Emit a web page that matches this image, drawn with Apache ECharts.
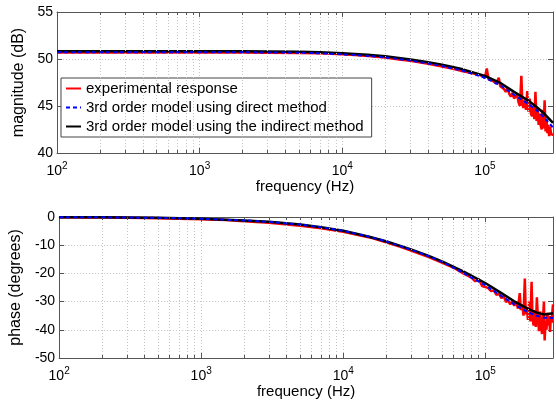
<!DOCTYPE html>
<html>
<head>
<meta charset="utf-8">
<script src="https://cdn.jsdelivr.net/npm/echarts@6/dist/echarts.min.js"></script>
<style>
html,body{margin:0;padding:0;background:#fff;}
#chart{width:556px;height:404px;}
</style>
</head>
<body>
<div id="chart"></div>
<script>
// ---- data ----
const legendNames = ['experimental response', '3rd order model using direct method', '3rd order model using the indirect method'];
const minorFreqs = [200,300,400,500,600,700,800,900,2000,3000,4000,5000,6000,7000,8000,9000,20000,30000,40000,50000,60000,70000,80000,90000,200000];

const freqModel = [100, 200, 500, 1000, 2000, 3000, 5000, 7000, 10000, 15000, 20000, 30000, 40000, 50000, 70000, 100000, 130000, 160000, 200000, 230000, 260000, 300000];
const magIndirect = [50.83, 50.83, 50.83, 50.83, 50.82, 50.81, 50.78, 50.72, 50.62, 50.45, 50.3, 49.95, 49.65, 49.4, 48.9, 48.2, 47.4, 46.5, 45.6, 44.9, 44.2, 43.2];
const magDirect   = [50.72, 50.72, 50.72, 50.72, 50.71, 50.7, 50.67, 50.61, 50.5, 50.33, 50.17, 49.83, 49.52, 49.25, 48.75, 48.0, 47.15, 46.2, 45.25, 44.55, 43.8, 42.7];
const phIndirect  = [-0.06, -0.12, -0.3, -0.6, -1.2, -1.7, -2.7, -3.6, -4.9, -6.9, -8.6, -11.5, -13.8, -15.8, -19.3, -23.4, -27.0, -29.9, -32.6, -33.9, -34.6, -34.1];
const phDirect    = [-0.06, -0.12, -0.3, -0.6, -1.2, -1.7, -2.7, -3.6, -4.9, -6.9, -8.6, -11.6, -13.9, -16.0, -19.8, -24.2, -28.0, -31.0, -33.8, -35.0, -35.7, -35.8];

const freqMagExp = [100,150,200,300,500,700,1000,1500,2000,3000,5000,7000,10000,13000,16000,20000,25000,30000,40000,50000,60000,70000,80000,
  90000,95000,100000,103000,106000,110000,115000,120000,125000,128000,132000,136000,140000,144000,148000,152000,156000,160000,164000,168000,172000,176000,180000,183000,186000,190000,194000,198000,202000,206000,210000,214000,218000,222000,226000,230000,234000,238000,242000,246000,250000,254000,258000,262000,266000,270000,274000,278000,282000,286000,290000,295000,300000];
const magExp = [50.7,50.72,50.68,50.7,50.71,50.69,50.7,50.68,50.7,50.67,50.65,50.6,50.5,50.4,50.3,50.15,49.95,49.8,49.5,49.2,48.95,48.7,48.5,
  48.35,48.2,48.0,49.0,47.85,47.8,47.6,47.4,48.0,47.1,47.0,46.8,46.5,46.9,46.3,46.0,46.4,45.8,45.6,46.2,45.4,45.0,48.2,45.2,44.8,45.6,44.6,46.6,44.4,45.8,44.2,43.9,45.0,43.6,46.5,43.4,44.8,43.0,44.2,42.9,42.5,44.6,42.6,45.6,42.3,43.6,42.1,43.0,41.8,42.8,42.2,41.9,42.0];

const freqPhExp = [100,150,200,300,500,700,1000,1500,2000,3000,5000,7000,10000,13000,16000,20000,25000,30000,40000,50000,60000,70000,
  80000,85000,90000,95000,100000,105000,110000,115000,120000,125000,130000,135000,140000,145000,150000,155000,160000,165000,170000,175000,178000,182000,186000,190000,193000,196000,200000,204000,208000,212000,215000,219000,223000,227000,231000,235000,239000,243000,247000,251000,255000,259000,262000,266000,270000,274000,278000,282000,286000,290000,294000,297000,300000];
const phExp = [-0.1,-0.15,-0.2,-0.3,-0.4,-0.6,-0.8,-1.1,-1.5,-2.0,-3.1,-4.0,-5.2,-6.5,-7.5,-9.0,-10.5,-11.9,-14.2,-16.3,-18.0,-20.0,
  -21.5,-22.8,-22.0,-24.5,-24.8,-25.2,-26.3,-26.0,-27.6,-27.2,-28.8,-28.0,-30.2,-29.4,-31.0,-29.8,-31.5,-30.0,-32.5,-27.0,-33.0,-31.0,-35.0,-21.8,-34.5,-32.0,-36.5,-30.0,-37.0,-23.0,-35.5,-38.5,-33.0,-39.0,-28.5,-36.0,-40.5,-33.5,-38.0,-41.5,-36.0,-30.0,-43.8,-37.0,-40.0,-34.0,-38.5,-35.0,-40.8,-35.0,-37.5,-33.5,-31.0];

// ---- chart ----
const FONT = 'Liberation Sans, Arial, sans-serif';
const AXIS_COLOR = '#555';
const GRID_COLOR = '#c4c4c4';
const pairs = (xs, ys) => xs.map((x, i) => [x, ys[i]]);

function xLabelFmt(v) {
  const e = Math.log10(v);
  if (Math.abs(e - Math.round(e)) > 1e-6) return '';
  return '{b|10}{s|' + Math.round(e) + '}';
}

function bottomX(gridIndex) {
  return {
    type: 'log', logBase: 10, gridIndex: gridIndex, min: 100, max: 300000,
    name: 'frequency (Hz)', nameLocation: 'middle', nameGap: 25,
    nameTextStyle: { fontFamily: FONT, fontSize: 15, color: '#000' },
    axisLine: { show: true, onZero: false, lineStyle: { color: AXIS_COLOR, width: 1 } },
    axisTick: { show: true, inside: true, length: 5, lineStyle: { color: AXIS_COLOR } },
    axisLabel: {
      show: true, margin: 8, formatter: xLabelFmt, showMaxLabel: false,
      rich: {
        b: { fontFamily: FONT, fontSize: 14, color: '#000' },
        s: { fontFamily: FONT, fontSize: 10, color: '#000', padding: [0, 0, 10, 0] }
      }
    },
    splitLine: { show: true, lineStyle: { color: GRID_COLOR, type: [1, 2], width: 1 } },
    minorTick: { show: false }
  };
}
function topX(gridIndex) {
  return {
    type: 'log', logBase: 10, gridIndex: gridIndex, min: 100, max: 300000, position: 'top',
    axisLine: { show: true, onZero: false, lineStyle: { color: AXIS_COLOR, width: 1 } },
    axisTick: { show: true, inside: true, length: 5, lineStyle: { color: AXIS_COLOR } },
    axisLabel: { show: false }, splitLine: { show: false }
  };
}
function leftY(gridIndex, min, max, interval, name, gap) {
  return {
    type: 'value', gridIndex: gridIndex, min: min, max: max, interval: interval,
    name: name, nameLocation: 'middle', nameGap: gap,
    nameTextStyle: { fontFamily: FONT, fontSize: 16, color: '#000' },
    axisLine: { show: true, onZero: false, lineStyle: { color: AXIS_COLOR, width: 1 } },
    axisTick: { show: true, inside: true, length: 5, lineStyle: { color: AXIS_COLOR } },
    axisLabel: { show: true, margin: 4, fontFamily: FONT, fontSize: 14, color: '#000' },
    splitLine: { show: true, lineStyle: { color: GRID_COLOR, type: [1, 2], width: 1 } }
  };
}
function rightY(gridIndex, min, max, interval) {
  return {
    type: 'value', gridIndex: gridIndex, min: min, max: max, interval: interval, position: 'right',
    axisLine: { show: true, onZero: false, lineStyle: { color: AXIS_COLOR, width: 1 } },
    axisTick: { show: true, inside: true, length: 5, lineStyle: { color: AXIS_COLOR } },
    axisLabel: { show: false }, splitLine: { show: false }
  };
}
// minor grid lines + short inward minor ticks (bottom and top) at minorFreqs
function minorGridSeries(xi, yi, ymin, ymax, tickLen) {
  const grid = minorFreqs.map(f => ({ xAxis: f, lineStyle: { color: GRID_COLOR, type: [1, 2], width: 1 } }));
  const ticks = [];
  minorFreqs.forEach(f => {
    ticks.push([{ coord: [f, ymin], lineStyle: { color: AXIS_COLOR, type: 'solid', width: 1 } }, { coord: [f, ymin + tickLen] }]);
    ticks.push([{ coord: [f, ymax], lineStyle: { color: AXIS_COLOR, type: 'solid', width: 1 } }, { coord: [f, ymax - tickLen] }]);
  });
  return {
    type: 'line', xAxisIndex: xi, yAxisIndex: yi, data: [[100, (ymin + ymax) / 2]], symbol: 'none', silent: true,
    lineStyle: { width: 0, opacity: 0 }, z: 1,
    markLine: {
      silent: true, symbol: 'none', label: { show: false }, animation: false,
      emphasis: { disabled: true },
      data: grid.concat(ticks)
    }
  };
}
function lineSeries(name, xi, yi, data, color, width, dash, z) {
  return {
    name: name, type: 'line', xAxisIndex: xi, yAxisIndex: yi, data: data,
    symbol: 'none', smooth: false, z: z, animation: false,
    lineStyle: { color: color, width: width, type: dash || 'solid' },
    itemStyle: { color: color }
  };
}

const chart = echarts.init(document.getElementById('chart'), null, { renderer: 'canvas' });
chart.setOption({
  animation: false,
  backgroundColor: '#fff',
  grid: [
    { left: 57, right: 3, top: 12, height: 141 },
    { left: 57, right: 3, top: 217, height: 141 }
  ],
  xAxis: [bottomX(0), topX(0), bottomX(1), topX(1)],
  yAxis: [
    leftY(0, 40, 55, 5, 'magnitude (dB)', 22), rightY(0, 40, 55, 5),
    leftY(1, -50, 0, 10, 'phase (degrees)', 25), rightY(1, -50, 0, 10)
  ],
  legend: {
    data: legendNames, orient: 'vertical', left: 61, top: 78,
    itemWidth: 15, itemHeight: 14, itemGap: 4,
    padding: [3, 8, 3, 4],
    backgroundColor: '#fff', borderColor: '#444', borderWidth: 1,
    itemStyle: { opacity: 0 },
    textStyle: { fontFamily: FONT, fontSize: 15, color: '#000' },
    selectedMode: false
  },
  series: [
    minorGridSeries(0, 0, 40, 55, 0.32),
    minorGridSeries(2, 2, -50, 0, 1.06),
    lineSeries(legendNames[0], 0, 0, pairs(freqMagExp, magExp), '#ff0000', 2.5, null, 3),
    lineSeries(legendNames[2], 0, 0, pairs(freqModel, magIndirect), '#000000', 2.5, null, 4),
    lineSeries(legendNames[1], 0, 0, pairs(freqModel, magDirect), '#0000ff', 2, [4, 3], 5),
    lineSeries(legendNames[0], 2, 2, pairs(freqPhExp, phExp), '#ff0000', 2.5, null, 3),
    lineSeries(legendNames[2], 2, 2, pairs(freqModel, phIndirect), '#000000', 2.5, null, 4),
    lineSeries(legendNames[1], 2, 2, pairs(freqModel, phDirect), '#0000ff', 2, [4, 3], 5)
  ]
});
</script>
</body>
</html>
